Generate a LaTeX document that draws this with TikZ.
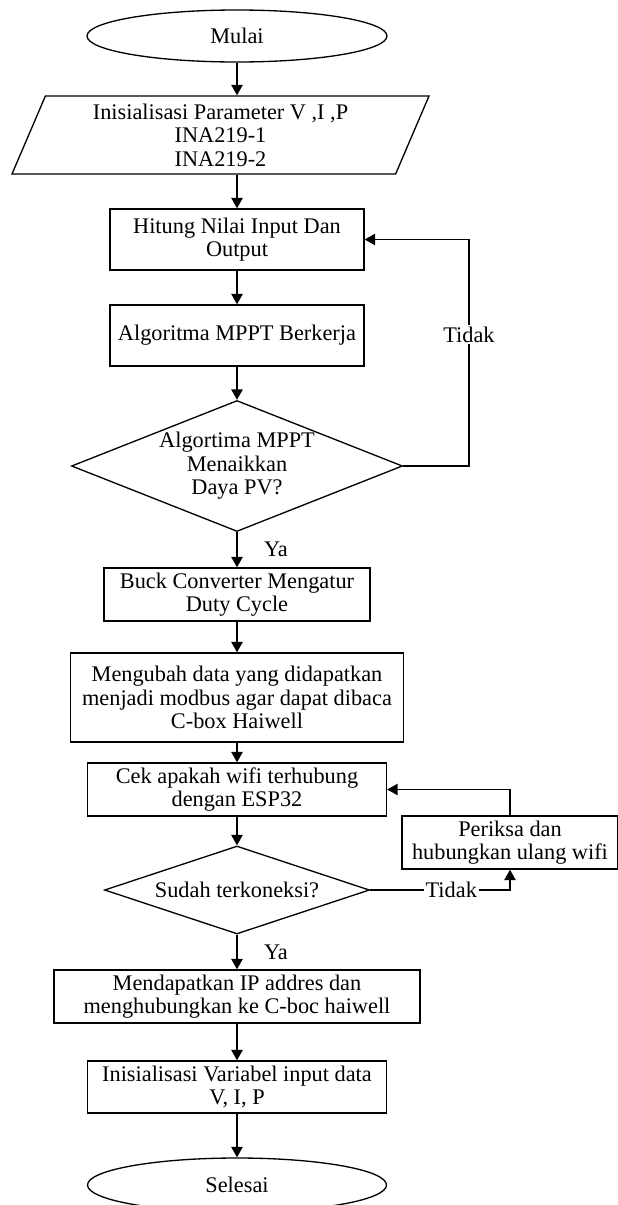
\documentclass[tikz,border=0pt]{standalone}
\usepackage{fontspec}
\setmainfont{Liberation Serif}
\usetikzlibrary{shapes.geometric, arrows.meta}

\begin{document}
\begin{tikzpicture}[
            every node/.style={font=\fontsize{12.7pt}{13.4pt}\selectfont},
            box/.style={draw, rectangle, align=center, inner sep=2pt, line width=0.75pt},
            term/.style={draw, ellipse, inner sep=0pt, line width=0.75pt},
            io/.style={draw, trapezium, trapezium left angle=62, trapezium right angle=118,
                trapezium stretches body, align=center, inner sep=0pt, line width=0.75pt},
            cond/.style={draw, diamond, align=center, inner sep=0pt, line width=0.75pt},
            arr/.style={-{Triangle[length=6pt,width=6.5pt]}, line width=0.85pt},
            lbl/.style={fill=white, inner sep=1pt}]
            \useasboundingbox (0,0) rectangle (12.34,-24.1);
            \node[term, minimum width=6cm, minimum height=1.04cm] (start) at (4.74,-0.72) {Mulai};
            \node[io, minimum width=8.34cm, minimum height=1.56cm] (init) at (4.41,-2.70)
                {Inisialisasi Parameter V ,I ,P\\INA219-1\\INA219-2};
            \node[box, minimum width=5.08cm, minimum height=1.22cm] (hitung) at (4.74,-4.79)
                {Hitung Nilai Input Dan\\Output};
            \node[box, minimum width=5.08cm, minimum height=1.22cm] (algo) at (4.74,-6.71)
                {Algoritma MPPT Berkerja};
            \node[cond, aspect=2.53, minimum width=6.62cm, minimum height=2.62cm] (naik) at (4.74,-9.32)
                {Algortima MPPT\\Menaikkan\\Daya PV?};
            \node[box, minimum width=5.32cm, minimum height=1.06cm] (buck) at (4.74,-11.89)
                {Buck Converter Mengatur\\Duty Cycle};
            \node[box, minimum width=6.66cm, minimum height=1.78cm] (ubah) at (4.74,-13.95)
                {Mengubah data yang didapatkan\\menjadi modbus agar dapat dibaca\\C-box Haiwell};
            \node[box, minimum width=5.98cm, minimum height=1.06cm] (cek) at (4.74,-15.79)
                {Cek apakah wifi terhubung\\dengan ESP32};
            \node[cond, aspect=3.01, minimum width=5.3cm, minimum height=1.76cm] (konek) at (4.74,-17.8)
                {Sudah terkoneksi?};
            \node[box, minimum width=4.32cm, minimum height=1.06cm] (periksa) at (10.2,-16.85)
                {Periksa dan\\hubungkan ulang wifi};
            \node[box, minimum width=7.32cm, minimum height=1.06cm] (dapat) at (4.74,-19.93)
                {Mendapatkan IP addres dan\\menghubungkan ke C-boc haiwell};
            \node[box, minimum width=5.98cm, minimum height=1.04cm] (var) at (4.74,-21.74)
                {Inisialisasi Variabel input data\\V, I, P};
            \node[term, minimum width=5.98cm, minimum height=1.08cm] (stop) at (4.74,-23.70) {Selesai};
            \coordinate (balik) at (9.38,-9.32);
            \draw[arr] (start.south) -- (start.south |- init.north);
            \draw[arr] (init.south -| hitung.north) -- (hitung.north);
            \draw[arr] (hitung) -- (algo);
            \draw[arr] (algo) -- (naik);
            \draw[arr] (naik) -- node[right=0.41cm] {Ya} (buck);
            \draw[arr] (buck) -- (ubah);
            \draw[arr] (ubah) -- (cek);
            \draw[arr] (cek) -- (konek);
            \draw[arr] (konek) -- node[right=0.41cm] {Ya} (dapat);
            \draw[arr] (dapat) -- (var);
            \draw[arr] (var) -- (stop);
            \draw[arr] (naik.east) -- (balik) |- node[lbl, pos=0.29] {Tidak} (hitung.east);
            \draw[arr] (konek.east) -| node[lbl, pos=0.29] {Tidak} (periksa.south);
            \draw[arr] (periksa.north) |- (cek.east);
        \end{tikzpicture}
\end{document}
